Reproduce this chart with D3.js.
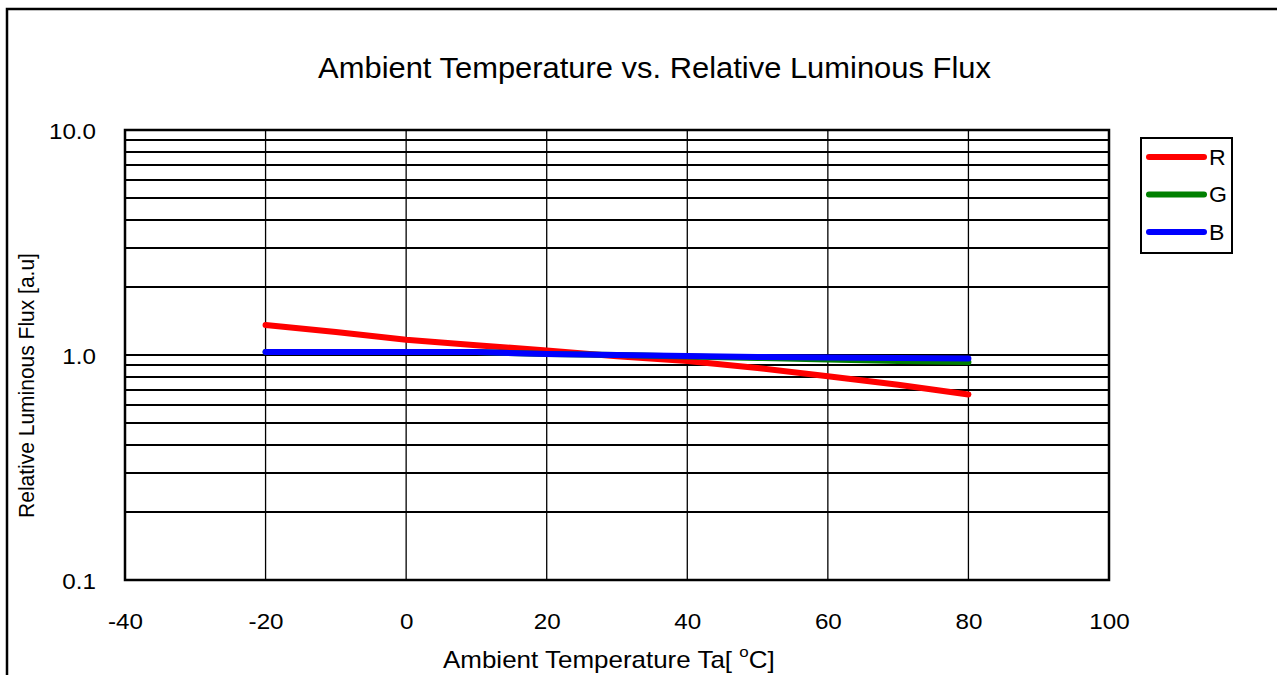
<!DOCTYPE html>
<html><head><meta charset="utf-8">
<script src="https://cdn.jsdelivr.net/npm/d3@7"></script>
<style>
html,body{margin:0;padding:0;background:#fff;}
text{font-family:"Liberation Sans",Arial,sans-serif;fill:#000;}
</style></head>
<body>
<svg id="c" width="1277" height="675"></svg>
<script>
const temps = [-20, -10, 0, 10, 20, 30, 40, 50, 60, 70, 80];
const seriesR = [1.36, 1.265, 1.17, 1.105, 1.048, 0.988, 0.94, 0.875, 0.805, 0.738, 0.668];
const seriesG = [1.03, 1.03, 1.03, 1.03, 1.01, 1.0, 0.985, 0.97, 0.955, 0.94, 0.93];
const seriesB = [1.03, 1.03, 1.03, 1.03, 1.01, 1.0, 0.99, 0.98, 0.975, 0.97, 0.965];
const seriesNames = ["R", "G", "B"];
const seriesColors = ["#ff0000", "#008000", "#0000ff"];
const xTicks = [-40, -20, 0, 20, 40, 60, 80, 100];
const yTicks = [0.1, 1, 10];
const yTickLabels = ["0.1", "1.0", "10.0"];
const titleText = "Ambient Temperature vs. Relative Luminous Flux";
const yLabelText = "Relative Luminous Flux [a.u]";

const svg = d3.select("#c");
const L = 125, R = 1109, T = 130, B = 580;
const x = d3.scaleLinear().domain([-40, 100]).range([L, R]);
const y = d3.scaleLog().domain([0.1, 10]).range([B, T]);

// outer frame
svg.append("path").attr("d", `M7,675 L7,9 L1277,9`).attr("fill","none").attr("stroke","#000").attr("stroke-width",2.5);

// horizontally scale text about its anchor x
function widen(sel, factor) {
  sel.each(function(){
    const ax = +d3.select(this).attr("x") || 0;
    d3.select(this).attr("transform", `translate(${ax},0) scale(${factor},1) translate(${-ax},0)`);
  });
}

// title
const title = svg.append("text").attr("x", (318+991)/2).attr("y", 78).attr("text-anchor","middle")
  .attr("font-size", 30).text(titleText);
widen(title, 673 / title.node().getComputedTextLength());

// horizontal grid (minor log lines)
const minor = [];
for (const d of [0.1, 1]) for (let k = 2; k <= 9; k++) minor.push(d*k);
minor.push(1);
svg.append("g").selectAll("line").data(minor).join("line")
  .attr("x1", L).attr("x2", R).attr("y1", d=>Math.round(y(d))).attr("y2", d=>Math.round(y(d)))
  .attr("stroke","#000").attr("stroke-width",2);

// vertical grid
svg.append("g").selectAll("line").data(xTicks.slice(1,-1)).join("line")
  .attr("x1", d=>x(d)).attr("x2", d=>x(d)).attr("y1", T).attr("y2", B)
  .attr("stroke","#000").attr("stroke-width",1.3);

// plot border
svg.append("rect").attr("x", L).attr("y", T).attr("width", R-L).attr("height", B-T)
  .attr("fill","none").attr("stroke","#000").attr("stroke-width",2.5);

// axes via d3
const xAxis = d3.axisBottom(x).tickValues(xTicks).tickSize(0).tickPadding(0).tickFormat(d=>String(d));
const gx = svg.append("g").attr("transform", `translate(0,${B})`).call(xAxis);
gx.select(".domain").remove();
gx.selectAll("text").attr("font-size", 22).attr("dy", 0).attr("y", 49).attr("fill","#000")
  .attr("font-family","Liberation Sans, Arial, sans-serif").call(widen, 1.1);

const yAxis = d3.axisLeft(y).tickValues(yTicks).tickSize(0).tickPadding(0).tickFormat((d,i)=>yTickLabels[i]);
const gy = svg.append("g").attr("transform", `translate(96,0)`).call(yAxis);
gy.select(".domain").remove();
gy.selectAll("text").attr("font-size", 22).attr("dy", "0.37em").attr("x", 0).attr("fill","#000")
  .attr("font-family","Liberation Sans, Arial, sans-serif").call(widen, 1.1);

// axis titles
const xl = svg.append("text").attr("x", 443).attr("y", 668).attr("font-size", 23);
xl.append("tspan").text("Ambient Temperature Ta[ ");
xl.append("tspan").attr("font-size", 15).attr("dy", -11).text("o");
xl.append("tspan").attr("dy", 11).text("C]");
{
  const w = xl.node().getBBox().width;
  xl.attr("transform", `translate(443,0) scale(${332/w},1) translate(-443,0)`);
}

const yl = svg.append("text").attr("x", 0).attr("y", 0).attr("text-anchor","middle")
  .attr("font-size", 22).text(yLabelText);
{
  const w = yl.node().getComputedTextLength();
  yl.attr("transform", `translate(34,${(253+518)/2}) rotate(-90) scale(${265/w},1)`);
}

// lines
const data = [seriesR, seriesG, seriesB];
const line = d3.line().x((d,i)=>x(temps[i])).y(d=>y(d));
svg.append("g").selectAll("path").data([0,1,2]).join("path")
  .attr("d", i=>line(data[i])).attr("fill","none").attr("stroke", i=>seriesColors[i])
  .attr("stroke-width", 6).attr("stroke-linecap","round").attr("stroke-linejoin","round");

// legend
const lg = svg.append("g");
lg.append("rect").attr("x",1141).attr("y",138).attr("width",91).attr("height",115)
  .attr("fill","#fff").attr("stroke","#000").attr("stroke-width",2);
const ly = d3.scalePoint().domain(seriesNames).range([157, 232]);
seriesNames.forEach((n,i)=>{
  lg.append("line").attr("x1",1149).attr("x2",1204).attr("y1",ly(n)).attr("y2",ly(n))
    .attr("stroke",seriesColors[i]).attr("stroke-width",6).attr("stroke-linecap","round");
  const t = lg.append("text").attr("x",1209).attr("y",ly(n)+8).attr("font-size",22).text(n);
  widen(t, 1.05);
});
</script>
</body></html>
